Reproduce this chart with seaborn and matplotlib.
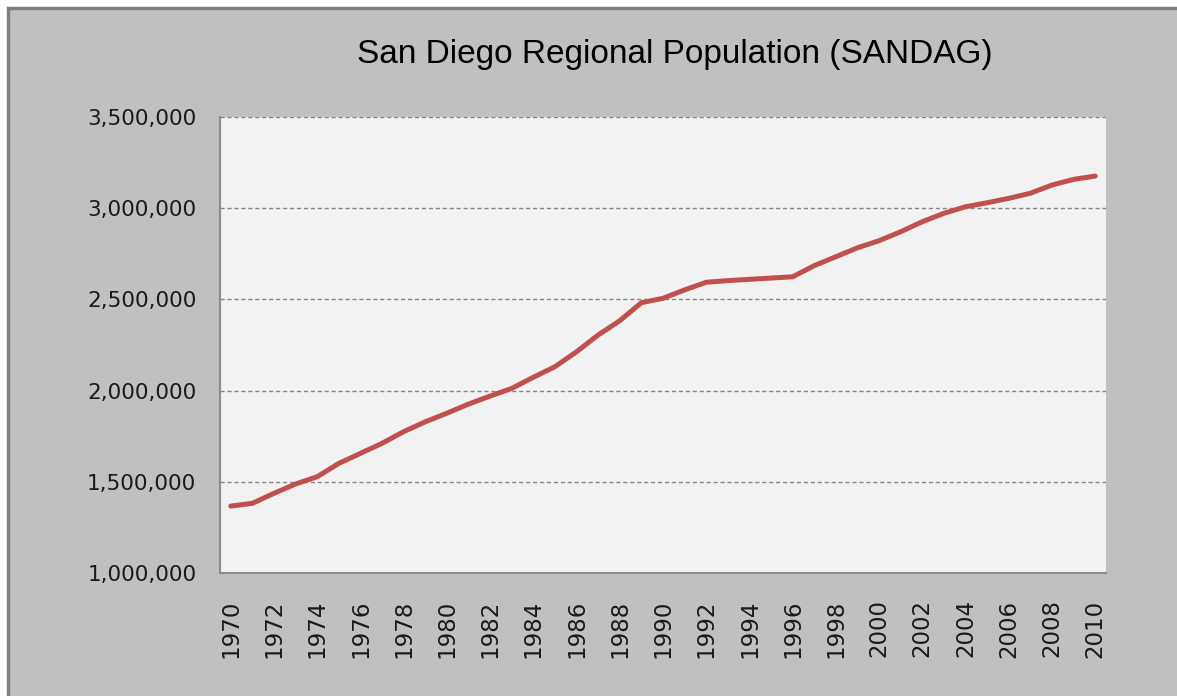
import numpy as np
import pandas as pd
import matplotlib.pyplot as plt
import matplotlib.ticker as mticker
from matplotlib.patches import Rectangle
import seaborn as sns

years = list(range(1970, 2011))
population = [
    1367000, 1382000, 1437000, 1488000, 1528000, 1601000, 1656000, 1711000,
    1775000, 1829000, 1876000, 1926000, 1970000, 2012000, 2073000, 2131000,
    2213000, 2305000, 2383000, 2482000, 2506000, 2552000, 2594000, 2603000,
    2610000, 2617000, 2624000, 2685000, 2734000, 2783000, 2822000, 2871000,
    2926000, 2972000, 3008000, 3030000, 3054000, 3082000, 3127000, 3158000,
    3176000,
]
tick_years = years[::2]

df = pd.DataFrame({"year": years, "population": population})

sns.set_style("white")
plt.rcParams["font.family"] = ["DejaVu Sans"]

fig = plt.figure(figsize=(11.77, 6.96), dpi=100, facecolor="white")
# gray chart frame, cropped screenshot look
frame = Rectangle((8 / 1177, -0.01), 1.01, (696 - 8) / 696 + 0.01,
                  transform=fig.transFigure, facecolor="#c0c0c0",
                  edgecolor="#7f7f7f", linewidth=2.5, zorder=-10)
fig.add_artist(frame)

ax = fig.add_axes([220 / 1177, 123 / 696, 886 / 1177, 456 / 696])
ax.set_facecolor("#f2f2f2")

sns.lineplot(data=df, x="year", y="population", color="#c0504d",
             linewidth=3.6, ax=ax, solid_capstyle="round")

ax.set_xlim(1969.5, 2010.5)
ax.set_ylim(1_000_000, 3_500_000)
ax.set_yticks(np.arange(1_000_000, 3_500_001, 500_000))
ax.yaxis.set_major_formatter(mticker.FuncFormatter(lambda v, p: f"{int(v):,}"))
ax.set_xticks(tick_years)
ax.set_xticklabels([str(y) for y in tick_years], rotation=90)
ax.tick_params(axis="y", length=0, pad=17, labelsize=15.5, colors="#1a1a1a")
ax.tick_params(axis="x", length=0, pad=19, labelsize=16.5, colors="#1a1a1a")
ax.set_xlabel("")
ax.set_ylabel("")

ax.yaxis.grid(True, color="#868686", linestyle=(0, (3, 2)), linewidth=1)
ax.xaxis.grid(False)
for side in ["top", "right"]:
    ax.spines[side].set_visible(False)
for side in ["left", "bottom"]:
    ax.spines[side].set_color("#8c8c8c")
    ax.spines[side].set_linewidth(1.5)

fig.text(675 / 1177, 1 - 55 / 696, "San Diego Regional Population (SANDAG)",
         ha="center", va="center", fontsize=24,
         family=["Liberation Sans Narrow", "Liberation Sans", "DejaVu Sans"],
         color="black")

fig.savefig("out.png", dpi=100, facecolor=fig.get_facecolor())
